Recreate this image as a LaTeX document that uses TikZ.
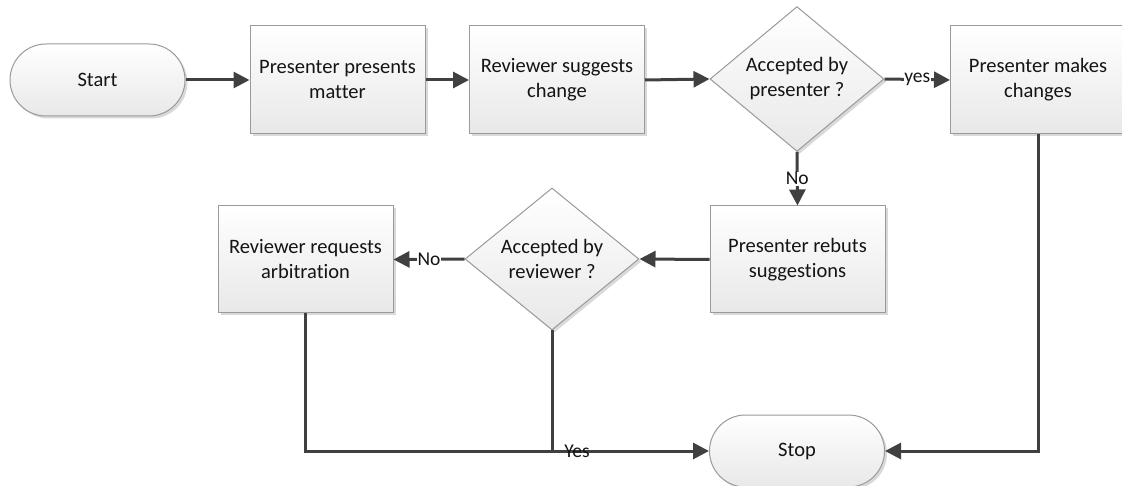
\documentclass[tikz,border=0pt]{standalone}
\usepackage{fontspec}
\setmainfont{Carlito}[Ligatures={NoCommon,NoContextual}]
\usetikzlibrary{shapes.geometric,arrows.meta,shadows,calc}
\definecolor{linecol}{HTML}{404040}
\definecolor{bordercol}{HTML}{9A9A9A}
\begin{document}
\begin{tikzpicture}[x=1pt,y=-1pt,
  every node/.style={font=\fontsize{20.5}{25}\selectfont, text=black!92, align=center},
  shapebase/.style={draw=bordercol, line width=1pt, top color=white, bottom color=black!9,
    drop shadow={shadow xshift=2.5pt, shadow yshift=-2.5pt, opacity=0.25, fill=black!60}},
  procbox/.style={shapebase, rectangle, minimum width=175pt, minimum height=108pt, inner sep=0pt},
  termbox/.style={shapebase, rectangle, rounded corners=36pt, minimum width=175pt, minimum height=72pt, inner sep=0pt},
  decbox/.style={shapebase, diamond, minimum width=174pt, minimum height=142pt, inner sep=0pt},
  flow/.style={draw=linecol, line width=3pt, -{Triangle[length=16pt,width=16pt]}},
  plain/.style={draw=linecol, line width=3pt},
  lbl/.style={font=\fontsize{19.5}{22}\selectfont, fill=white, inner sep=0.5pt},
  lblnofill/.style={font=\fontsize{19.5}{22}\selectfont, inner sep=0.5pt}
]
\useasboundingbox (0,0) rectangle (1122,486);

\node[termbox] (start) at (97.5,80) {Start};
\node[procbox] (p1) at (337.5,80) {Presenter presents\\matter};
\node[procbox] (p2) at (557,80) {Reviewer suggests\\change};
\node[decbox] (d1) at (797,79) {Accepted by\\presenter ?};
\node[procbox] (p3) at (1038,80) {Presenter makes\\changes};
\node[procbox, minimum height=107pt] (p4) at (797.5,259.5) {Presenter rebuts\\suggestions};
\node[decbox] (d2) at (552,259) {Accepted by\\reviewer ?};
\node[procbox, minimum height=107pt] (p5) at (305.5,259.5) {Reviewer requests\\arbitration};
\node[termbox] (stop) at (797,451) {Stop};

\coordinate (join) at (d2.south |- stop.west);

\draw[flow] (start.east) -- (p1.west);
\draw[flow] (p1.east) -- (p2.west);
\draw[flow] (p2.east) -- (d1.west);
\draw[flow] (d1.east) -- node[lbl] {yes} (p3.west);
\draw[flow] (d1.south) -- node[lbl] {No} (p4.north);
\draw[flow] (p4.west) -- (d2.east);
\draw[flow] (d2.west) -- node[lbl] {No} (p5.east);
\draw[flow] (p5.south) |- (stop.west);
\draw[plain] (d2.south) -- (join);
\node[lblnofill] (yeslbl) at ($(join)+(25,0)$) {Yes};
\draw[flow] (p3.south) |- (stop.east);
\end{tikzpicture}
\end{document}
